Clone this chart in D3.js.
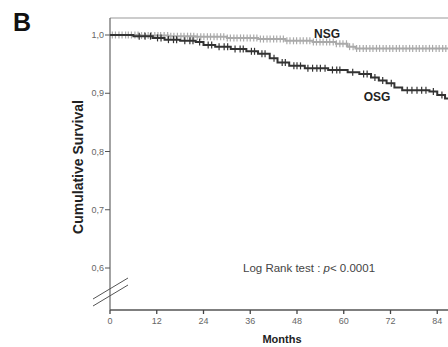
<!DOCTYPE html>
<html><head><meta charset="utf-8">
<script src="https://cdn.jsdelivr.net/npm/d3@7"></script>
<style>
html,body{margin:0;padding:0;background:#fff;}
svg{display:block;}
text{font-family:"Liberation Sans",Arial,sans-serif;}
</style></head>
<body><svg id="c" width="448" height="347"></svg>
<script>
// ---- data ----
const xTicks = [0, 12, 24, 36, 48, 60, 72, 84];
const yTicks = [0.6, 0.7, 0.8, 0.9, 1.0];
const yTickLabels = ["0,6", "0,7", "0,8", "0,9", "1,0"];

const nsgMonths = [0, 8, 15, 22, 30, 38, 45, 52, 58, 61, 63, 100];
const nsgSurv   = [1.0, 0.999, 0.998, 0.997, 0.995, 0.993, 0.990, 0.988, 0.985, 0.980, 0.977, 0.977];

const osgMonths = [0, 6, 11, 14, 18, 22, 24, 27, 31, 35, 38, 41, 43, 46, 50, 56, 61, 64, 67, 69, 71, 73, 75, 82, 84, 86, 100];
const osgSurv   = [1.0, 0.998, 0.995, 0.992, 0.990, 0.988, 0.983, 0.980, 0.976, 0.972, 0.968, 0.960, 0.953, 0.947, 0.943, 0.940, 0.936, 0.933, 0.927, 0.922, 0.917, 0.910, 0.905, 0.903, 0.897, 0.891, 0.890];

const nsgCensor = [0.6,1.4,2.3,3.1,4.0,4.7,5.5,6.4,7.2,8.1,8.9,9.8,10.6,11.5,12.3,13.0,13.9,14.8,15.6,16.4,17.3,18.2,19.0,19.9,20.7,21.5,22.4,23.3,24.1,25.0,25.8,26.7,27.5,28.4,29.2,30.1,30.9,31.8,32.6,33.5,34.3,35.2,36.0,36.9,37.7,38.6,39.4,40.3,41.1,42.0,42.8,43.7,44.5,45.4,46.2,47.1,47.9,48.8,49.6,50.5,51.3,52.2,53.0,53.9,54.7,55.6,56.4,57.3,58.1,59.0,59.8,60.7,61.5,62.4,63.3,64.1,65.0,65.8,66.7,67.5,68.4,69.2,70.1,70.9,71.8,72.6,73.5,74.3,75.2,76.0,76.9,77.7,78.6,79.4,80.3,81.1,82.0,82.8,83.7,84.5,85.4,86.2,87.1];
const osgCensor = [7.5,9.0,10.4,12.2,13.1,15.0,16.3,17.1,19.2,20.5,21.3,23.0,25.2,26.1,28.0,29.3,30.2,32.1,33.4,34.2,36.3,37.1,39.0,39.8,42.1,44.2,45.0,47.2,48.0,48.9,50.8,52.0,53.1,54.0,55.2,57.1,58.2,59.0,62.3,65.1,66.0,68.0,70.0,72.2,76.3,77.5,78.8,80.0,81.1,83.0,85.2,87.0];

// ---- layout ----
const svg = d3.select("#c");
const x = d3.scaleLinear().domain([0, 12]).range([110, 156.75]);
const y = d3.scaleLinear().domain([0.6, 1.0]).range([268, 35]);
const axisY = 310, topY = 18;

const stepAt = (ms, ss, t) => { const i = d3.bisectRight(ms, t) - 1; return ss[Math.max(0, i)]; };

// frame
svg.append("line").attr("x1", 110).attr("x2", 448).attr("y1", topY).attr("y2", topY).attr("stroke", "#999").attr("stroke-width", 1.2);
svg.append("line").attr("x1", 110).attr("x2", 110).attr("y1", topY).attr("y2", axisY).attr("stroke", "#666").attr("stroke-width", 1.2);
svg.append("line").attr("x1", 110).attr("x2", 448).attr("y1", axisY).attr("y2", axisY).attr("stroke", "#555").attr("stroke-width", 1.3);

// y ticks
const gy = svg.append("g");
yTicks.forEach((v, i) => {
  gy.append("line").attr("x1", 105).attr("x2", 110).attr("y1", y(v)).attr("y2", y(v)).attr("stroke", "#555");
  gy.append("text").attr("x", 104).attr("y", y(v) + 3).attr("text-anchor", "end").attr("font-size", 9).attr("fill", "#666").text(yTickLabels[i]);
});
// x ticks
const gx = svg.append("g");
xTicks.forEach(v => {
  gx.append("line").attr("x1", x(v)).attr("x2", x(v)).attr("y1", axisY).attr("y2", axisY + 4).attr("stroke", "#444").attr("stroke-width", 1.3);
  gx.append("text").attr("x", x(v)).attr("y", axisY + 14).attr("text-anchor", "middle").attr("font-size", 9).attr("fill", "#666").text(v);
});

// axis break
svg.append("line").attr("x1", 93).attr("y1", 299).attr("x2", 128).attr("y2", 278).attr("stroke", "#555").attr("stroke-width", 1);
svg.append("line").attr("x1", 93).attr("y1", 306).attr("x2", 128).attr("y2", 285).attr("stroke", "#555").attr("stroke-width", 1);

// curves
const line = d3.line().x(d => x(d[0])).y(d => y(d[1])).curve(d3.curveStepAfter);
const nsg = nsgMonths.map((m, i) => [m, nsgSurv[i]]);
const osg = osgMonths.map((m, i) => [m, osgSurv[i]]);
const plot = svg.append("g");
plot.append("path").datum(nsg).attr("d", line).attr("fill", "none").attr("stroke", "#aaa").attr("stroke-width", 2);
plot.selectAll(".cn").data(nsgCensor).enter().append("line")
  .attr("x1", d => x(d)).attr("x2", d => x(d))
  .attr("y1", d => y(stepAt(nsgMonths, nsgSurv, d)) - 3.5)
  .attr("y2", d => y(stepAt(nsgMonths, nsgSurv, d)) + 3.5)
  .attr("stroke", "#aaa").attr("stroke-width", 1.2);
plot.append("path").datum(osg).attr("d", line).attr("fill", "none").attr("stroke", "#333").attr("stroke-width", 2);
plot.selectAll(".co").data(osgCensor).enter().append("line")
  .attr("x1", d => x(d)).attr("x2", d => x(d))
  .attr("y1", d => y(stepAt(osgMonths, osgSurv, d)) - 3.5)
  .attr("y2", d => y(stepAt(osgMonths, osgSurv, d)) + 3.5)
  .attr("stroke", "#333").attr("stroke-width", 1.2);

// labels
svg.append("text").attr("x", 13).attr("y", 31).attr("font-size", 25).attr("font-weight", "bold").attr("fill", "#111").text("B");
svg.append("text").attr("transform", "translate(83,167) rotate(-90)").attr("text-anchor", "middle").attr("font-size", 14).attr("font-weight", "bold").attr("fill", "#222").text("Cumulative Survival");
svg.append("text").attr("x", 282).attr("y", 343).attr("text-anchor", "middle").attr("font-size", 11).attr("font-weight", "bold").attr("fill", "#222").text("Months");
svg.append("text").attr("x", 327).attr("y", 38).attr("text-anchor", "middle").attr("font-size", 12).attr("font-weight", "bold").attr("fill", "#222").text("NSG");
svg.append("text").attr("x", 377).attr("y", 101).attr("text-anchor", "middle").attr("font-size", 12).attr("font-weight", "bold").attr("fill", "#222").text("OSG");
const lr = svg.append("text").attr("x", 243).attr("y", 272).attr("font-size", 11.5).attr("fill", "#444");
lr.append("tspan").text("Log Rank test : ");
lr.append("tspan").attr("font-style", "italic").text("p");
lr.append("tspan").text("< 0.0001");
</script></body></html>
